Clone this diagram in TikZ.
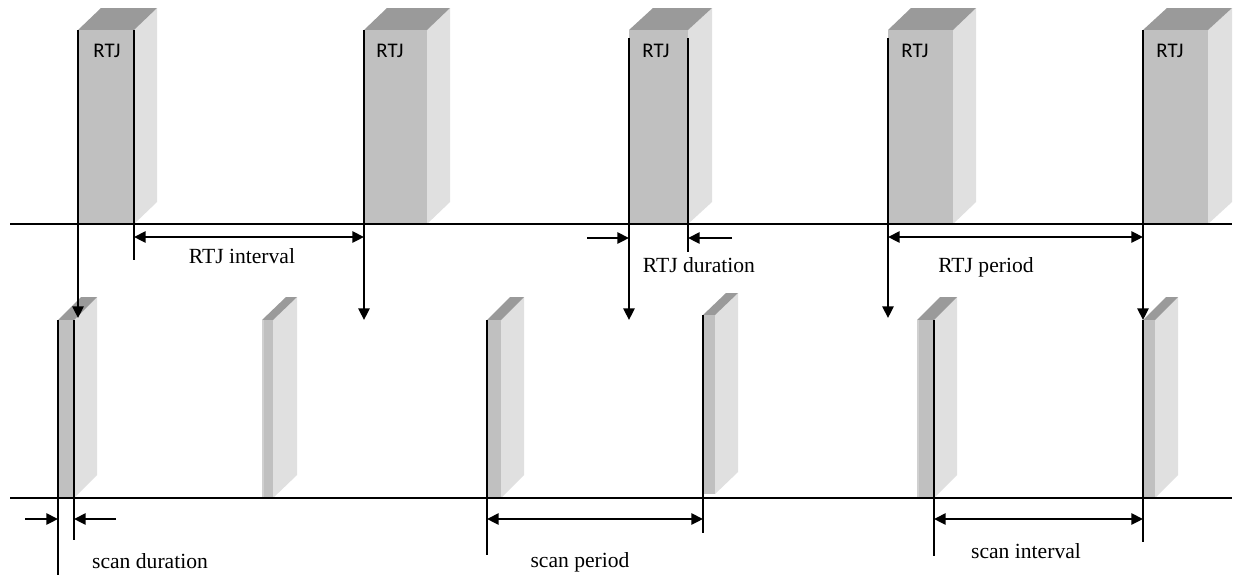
\documentclass[tikz,border=0pt]{standalone}
\usepackage{fontspec}
\setmainfont{Liberation Serif}
\newfontfamily\rtjfont{Carlito}
\usetikzlibrary{arrows.meta}
\definecolor{frontc}{HTML}{C0C0C0}
\definecolor{topc}{HTML}{9A9A9A}
\definecolor{sidec}{HTML}{E0E0E0}
\definecolor{edgec}{HTML}{D0D0D0}
\newcommand\drawcuboid[6]{% xl xr depth ytop ybot rise
  \fill[sidec] (#2,#4) -- ++(#3,-#6) -- (#2+#3,#5-#6) -- (#2,#5) -- cycle;
  \fill[topc] (#1,#4) -- (#2,#4) -- ++(#3,-#6) -- (#1+#3,#4-#6) -- cycle;
  \fill[frontc] (#1,#4) rectangle (#2,#5);}
\begin{document}
\begin{tikzpicture}[x=0.5pt,y=-0.5pt,
  axis/.style={line width=0.6pt},
  tick/.style={line width=0.65pt},
  arr/.style={line width=0.9pt,-{Triangle[length=5.8pt,width=5.6pt]}},
  dim/.style={line width=0.9pt,{Triangle[length=5.8pt,width=5.6pt]}-{Triangle[length=5.8pt,width=5.6pt]}},
  lbl/.style={font=\fontsize{10.8}{13}\selectfont, anchor=base, inner sep=0pt},
  rtj/.style={font=\rtjfont\fontsize{10.4}{12}\selectfont, anchor=base, inner sep=0pt}]
\fill[white] (0,0) rectangle (1248,580);
\useasboundingbox (0,0) rectangle (1248,580);

% ---- top row cuboids (RTJ) ----
\drawcuboid{78}{134}{23}{30}{224}{22}
\drawcuboid{364}{427}{23}{30}{224}{22}
\drawcuboid{629}{688}{24}{30}{224}{22}
\drawcuboid{888}{953}{23}{30}{224}{22}
\drawcuboid{1143}{1208}{24}{30}{224}{22}
\node[rtj] (r1) at (107,57) {RTJ};
\node[rtj] (r2) at (390,57) {RTJ};
\node[rtj] (r3) at (656,57) {RTJ};
\node[rtj] (r4) at (915,57) {RTJ};
\node[rtj] (r5) at (1170,57) {RTJ};

% ---- bottom row cuboids (scans) ----
\drawcuboid{58}{74}{23}{320}{498}{23}
\drawcuboid{262}{273}{24}{320}{498}{23}
\fill[edgec] (262,320) rectangle (264,498);
\drawcuboid{487}{501}{23}{320}{498}{23}
\drawcuboid{703}{715}{23}{315}{494}{22}
\drawcuboid{917}{934}{23}{320}{498}{23}
\fill[edgec] (917,320) rectangle (919,498);
\drawcuboid{1143}{1155}{23}{320}{498}{23}

% ---- time axes ----
\coordinate (a1s) at (10,224);  \coordinate (a1e) at (1232,224);
\coordinate (a2s) at (10,498);  \coordinate (a2e) at (1232,498);
\draw[axis] (a1s) -- (a1e);
\draw[axis] (a2s) -- (a2e);

% ---- coordinates for marker lines ----
\coordinate (t1a) at (78,30);    \coordinate (t1b) at (78,318);
\coordinate (t1c) at (134,30);   \coordinate (t1d) at (134,260);
\coordinate (t2a) at (364,30);   \coordinate (t2m) at (364,272);  \coordinate (t2b) at (364,320);
\coordinate (t3a) at (629,38);   \coordinate (t3b) at (629,320);
\coordinate (t3c) at (688,38);   \coordinate (t3d) at (688,252);
\coordinate (t4a) at (888,38);   \coordinate (t4b) at (888,318);
\coordinate (t5a) at (1143,30);  \coordinate (t5b) at (1143,320);

\coordinate (bAa) at (58,320);   \coordinate (bAb) at (58,575);
\coordinate (bAc) at (74,320);   \coordinate (bAd) at (74,540);
\coordinate (bCa) at (487,320);  \coordinate (bCb) at (487,555);
\coordinate (bDa) at (703,315);  \coordinate (bDb) at (703,533);
\coordinate (bEa) at (934,320);  \coordinate (bEb) at (934,556);
\coordinate (bFa) at (1143,320); \coordinate (bFb) at (1143,542);

% ---- marker lines ----
\draw[arr] (t1a) -- (t1b);
\draw[tick] (t1c) -- (t1d);
\draw[tick] (t2a) -- (t2m);
\draw[arr] (t2m) -- (t2b);
\draw[arr] (t3a) -- (t3b);
\draw[tick] (t3c) -- (t3d);
\draw[arr] (t4a) -- (t4b);
\draw[arr] (t5a) -- (t5b);

\draw[tick] (bAa) -- (bAb);
\draw[tick] (bAc) -- (bAd);
\draw[tick] (bCa) -- (bCb);
\draw[tick] (bDa) -- (bDb);
\draw[tick] (bEa) -- (bEb);
\draw[tick] (bFa) -- (bFb);

% ---- dimension arrows (top) ----
\draw[dim] (134,237) coordinate (ri1) -- (364,237) coordinate (ri2);
\node[lbl] (lri) at (242,263) {RTJ interval};
\coordinate (rd0) at (587,238); \coordinate (rd1) at (629,238);
\coordinate (rd3) at (732,238); \coordinate (rd2) at (688,238);
\draw[arr] (rd0) -- (rd1);
\draw[arr] (rd3) -- (rd2);
\node[lbl] (lrd) at (699,272) {RTJ duration};
\draw[dim] (888,237) coordinate (rp1) -- (1143,237) coordinate (rp2);
\node[lbl] (lrp) at (986,272) {RTJ period};

% ---- dimension arrows (bottom) ----
\coordinate (sd0) at (25,519);  \coordinate (sd1) at (58,519);
\coordinate (sd3) at (116,519); \coordinate (sd2) at (74,519);
\draw[arr] (sd0) -- (sd1);
\draw[arr] (sd3) -- (sd2);
\node[lbl] (lsd) at (150,568) {scan duration};
\draw[dim] (487,519) coordinate (sp1) -- (703,519) coordinate (sp2);
\node[lbl] (lsp) at (580,567) {scan period};
\draw[dim] (934,519) coordinate (si1) -- (1143,519) coordinate (si2);
\node[lbl] (lsi) at (1026,558) {scan interval};
\end{tikzpicture}
\end{document}
